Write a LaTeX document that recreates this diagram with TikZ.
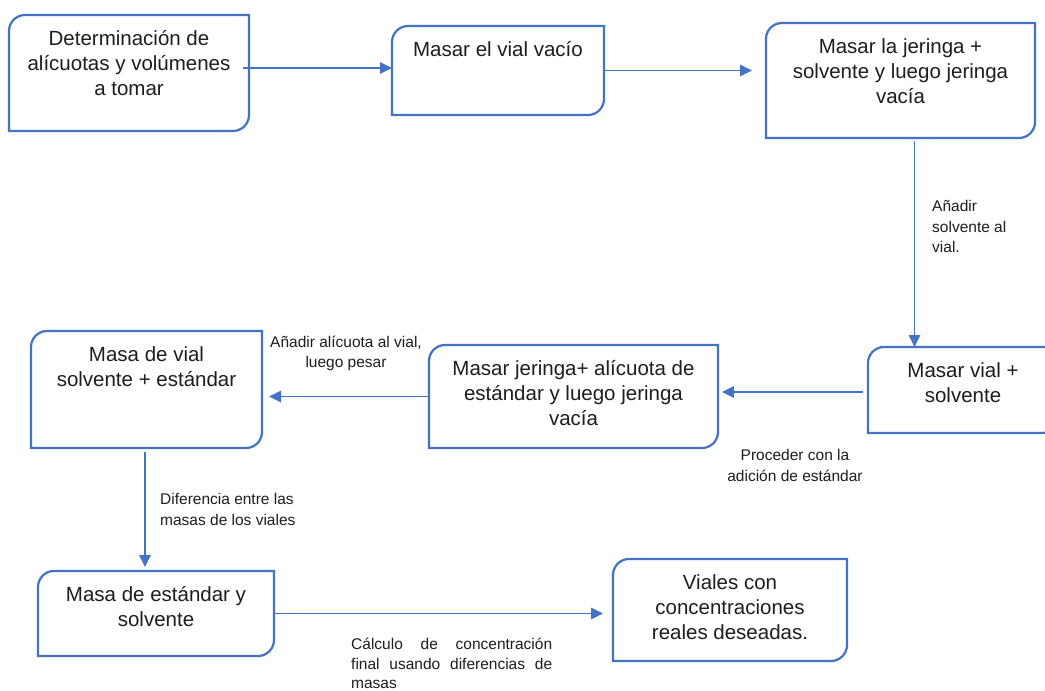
\documentclass[tikz,border=0pt]{standalone}
\usepackage{fontspec}
\setmainfont{Liberation Sans}
\usetikzlibrary{arrows.meta}
\definecolor{azul}{HTML}{4472C4}
\definecolor{tinta}{HTML}{1E1E1E}

\begin{document}
\begin{tikzpicture}[x=1pt, y=1pt,
    main/.style = {anchor=north west, inner sep=0pt, outer sep=0pt},
    rotulo/.style = {anchor=north, yshift=-15pt, inner sep=0pt, align=center, text=tinta, font=\fontsize{20.5}{25}\selectfont},
    nota/.style = {inner sep=0pt, text=tinta, font=\fontsize{15.5}{20.5}\selectfont},
    borde/.style = {draw=azul, line width=2.2pt},
    flecha/.style = {draw=azul, line width=1.2pt, -{Triangle[length=12pt, width=11.5pt]}}]
		\useasboundingbox (0,0) rectangle (1045,-691);
		\clip (0,0) rectangle (1045,-691);
		\fill[white] (0,0) rectangle (1045,-691);
		\node[main, minimum width=240pt, minimum height=116pt, label={[rotulo]north:{Determinación de\\alícuotas y volúmenes\\a tomar}}] (1) at (9,-15) {};
		\node[main, minimum width=212pt, minimum height=89pt, label={[rotulo]north:{Masar el vial vacío}}] (2) at (392,-26) {};
		\node[main, minimum width=269pt, minimum height=115pt, label={[rotulo]north:{Masar la jeringa +\\solvente y luego jeringa\\vacía}}] (3) at (766,-23) {};
		\node[main, minimum width=190pt, minimum height=86pt, label={[rotulo]north:{Masar vial +\\solvente}}] (4) at (868,-347) {};
		\node[main, minimum width=289pt, minimum height=103pt, label={[rotulo]north:{Masar jeringa+ alícuota de\\estándar y luego jeringa\\vacía}}] (5) at (429,-345) {};
		\node[main, minimum width=231pt, minimum height=117pt, label={[rotulo]north:{Masa de vial\\solvente + estándar}}] (6) at (31,-331) {};
		\node[main, minimum width=236pt, minimum height=85pt, label={[rotulo]north:{Masa de estándar y\\solvente}}] (7) at (38,-571) {};
		\node[main, minimum width=234pt, minimum height=102pt, label={[rotulo]north:{Viales con\\concentraciones\\reales deseadas.}}] (8) at (613,-559) {};
		% bordes: esquinas redondeadas arriba-izquierda y abajo-derecha
		\foreach \n in {1,...,8}
			\draw[borde] (\n.north east) -- ([xshift=16pt]\n.north west) arc[start angle=90, end angle=180, radius=16pt]
				-- (\n.south west) -- ([xshift=-16pt]\n.south east) arc[start angle=270, end angle=360, radius=16pt] -- cycle;
		% notas
		\node[nota, anchor=north west, align=left] (a) at (932,-200.5) {Añadir\\solvente al\\vial.};
		\node[nota, anchor=north, align=center] (b) at (346,-335.5) {Añadir alícuota al vial,\\luego pesar};
		\node[nota, anchor=north, align=center] (c) at (795,-449.5) {Proceder con la\\adición de estándar};
		\node[nota, anchor=north west, align=left] (d) at (160,-493.5) {Diferencia entre las\\masas de los viales};
		\node[nota, anchor=north west, align=justify, text width=201pt, font=\fontsize{15.5}{19.5}\selectfont] (e) at (351,-638) {Cálculo de concentración\linebreak final usando diferencias de\linebreak masas};
		% flechas
		\draw[flecha] ([xshift=-6pt, yshift=5pt]1.east) -- ([yshift=2.5pt]2.west);
		\draw[flecha, shorten >=14pt] (2.east) -- ([yshift=10pt]3.west);
		\draw[flecha, shorten <=3pt] ([xshift=14pt]3.south) -- ([xshift=-48.5pt]4.north);
		\draw[flecha, shorten <=5pt, shorten >=4pt] ([yshift=-2pt]4.west) -- ([yshift=4.5pt]5.east);
		\draw[flecha, shorten >=7pt] (5.west) -- ([yshift=-7pt]6.east);
		\draw[flecha, shorten <=4pt, shorten >=4pt] ([xshift=-1.5pt]6.south) -- ([xshift=-11pt]7.north);
		\draw[flecha, shorten >=10pt] (7.east) -- ([yshift=-3.5pt]8.west);
	\end{tikzpicture}
\end{document}
